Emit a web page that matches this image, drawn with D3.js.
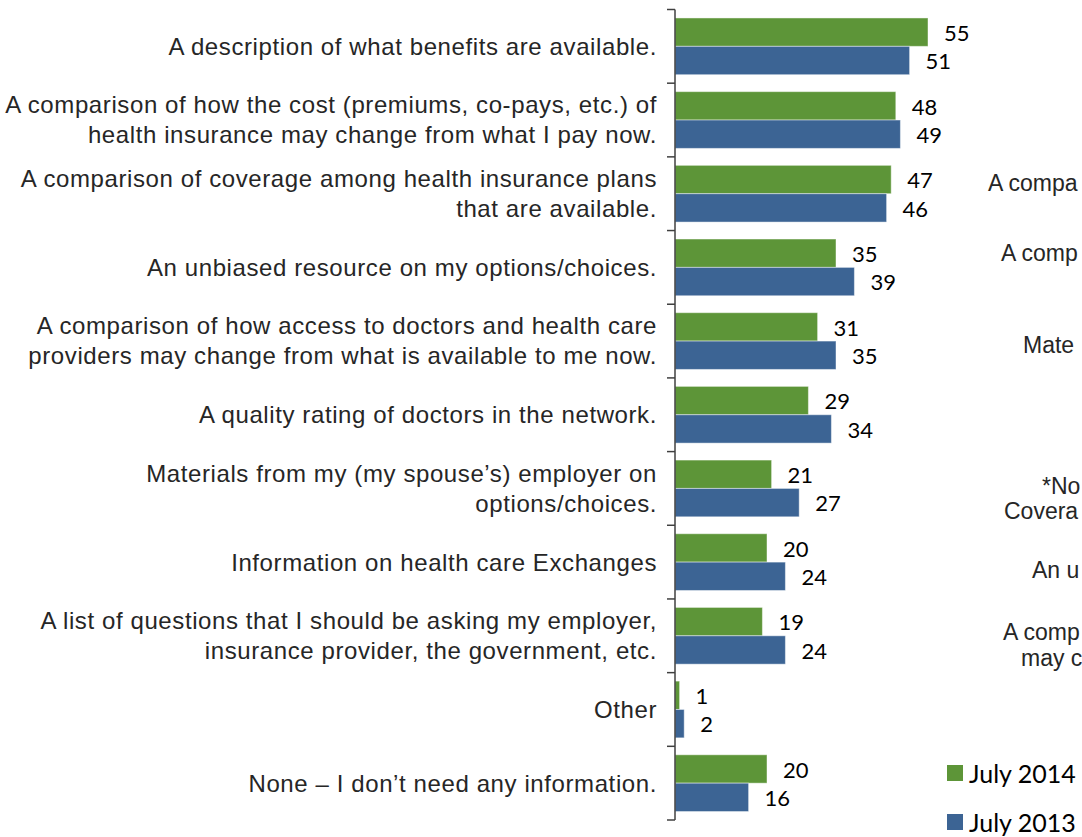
<!DOCTYPE html>
<html>
<head>
<meta charset="utf-8">
<script src="https://cdn.jsdelivr.net/npm/d3@7"></script>
<style>
  html, body { margin: 0; padding: 0; background: #fff; }
  svg { display: block; }
  .cat { font-family: "Liberation Sans Narrow", "Arial Narrow", "Liberation Sans", sans-serif; font-size: 24px; letter-spacing: 0.6px; fill: #262626; }
  .side { font-family: "Liberation Sans Narrow", "Arial Narrow", "Liberation Sans", sans-serif; font-size: 23px; fill: #262626; }
  .val { font-family: "Lato", "Carlito", "Calibri", sans-serif; font-size: 22px; fill: #000; }
  .leg { font-family: "Lato", "Carlito", "Calibri", sans-serif; font-size: 25px; fill: #000; }
</style>
</head>
<body>
<div id="chart"></div>
<script>
// Information employees would find helpful (percent of respondents)
const categories = [
  ["A description of what benefits are available."],
  ["A comparison of how the cost (premiums, co-pays, etc.) of", "health insurance may change from what I pay now."],
  ["A comparison of coverage among health insurance plans", "that are available."],
  ["An unbiased resource on my options/choices."],
  ["A comparison of how access to doctors and health care", "providers may change from what is available to me now."],
  ["A quality rating of doctors in the network."],
  ["Materials from my (my spouse\u2019s) employer on", "options/choices."],
  ["Information on health care Exchanges"],
  ["A list of questions that I should be asking my employer,", "insurance provider, the government, etc."],
  ["Other"],
  ["None \u2013 I don\u2019t need any information."]
];
const july2014 = [55, 48, 47, 35, 31, 29, 21, 20, 19, 1, 20];
const july2013 = [51, 49, 46, 39, 35, 34, 27, 24, 24, 2, 16];
const seriesNames = ["July 2014", "July 2013"];
const seriesColors = ["#5d9538", "#3c6494"];

// Labels of a neighbouring chart, visible only up to the right edge
const sideLabels = [
  { text: "A compa", x: 988, y: 183 },
  { text: "A comp", x: 1001, y: 253 },
  { text: "Mate", x: 1023, y: 345 },
  { text: "*No", x: 1042, y: 486 },
  { text: "Covera", x: 1004, y: 511 },
  { text: "An u", x: 1032, y: 570 },
  { text: "A comp", x: 1003, y: 632 },
  { text: "may c", x: 1021, y: 658 }
];

const W = 1082, H = 837;
const axisX = 675;

const svg = d3.select("#chart").append("svg")
  .attr("width", W).attr("height", H)
  .attr("viewBox", `0 0 ${W} ${H}`);

const idx = d3.range(categories.length);

const y0 = d3.scaleBand()
  .domain(idx)
  .range([9.5, 820])
  .paddingInner(0.23)
  .paddingOuter(0.115);

const y1 = d3.scaleBand()
  .domain([0, 1])
  .range([0, y0.bandwidth()]);

const x = d3.scaleLinear()
  .domain([0, 100])
  .range([axisX, axisX + 460]);

const step = y0.step();
const bandTop = i => y0(i) - y0.paddingInner() * step / 2;

// bars
const groups = svg.append("g").selectAll("g")
  .data(idx)
  .join("g")
  .attr("transform", i => `translate(0,${y0(i)})`);

groups.selectAll("rect")
  .data(i => [july2014[i], july2013[i]].map((v, s) => ({ v, s })))
  .join("rect")
  .attr("x", x(0))
  .attr("y", d => y1(d.s))
  .attr("width", d => x(d.v) - x(0))
  .attr("height", y1.bandwidth())
  .attr("fill", d => seriesColors[d.s])
  .attr("stroke", "rgba(255,255,255,0.45)")
  .attr("stroke-width", 1);

groups.selectAll("text.val")
  .data(i => [july2014[i], july2013[i]].map((v, s) => ({ v, s })))
  .join("text")
  .attr("class", "val")
  .attr("x", d => x(d.v) + 16)
  .attr("y", d => y1(d.s) + y1.bandwidth() / 2 + 1)
  .attr("dy", "0.35em")
  .text(d => d.v);

// category axis: vertical line with tick marks between categories
const axisG = svg.append("g");
axisG.append("line")
  .attr("x1", axisX).attr("x2", axisX)
  .attr("y1", 9.5).attr("y2", 820)
  .attr("stroke", "#404040").attr("stroke-width", 1.5);

const tickYs = idx.map(bandTop).concat([bandTop(categories.length - 1) + step]);
axisG.selectAll("line.tick")
  .data(tickYs)
  .join("line")
  .attr("class", "tick")
  .attr("x1", axisX - 8).attr("x2", axisX)
  .attr("y1", d => d).attr("y2", d => d)
  .attr("stroke", "#404040").attr("stroke-width", 1.5);

// category labels
const lineH = 30;
svg.append("g").selectAll("text")
  .data(idx)
  .join("text")
  .attr("class", "cat")
  .attr("text-anchor", "end")
  .each(function (i) {
    const lines = categories[i];
    const cy = y0(i) + y0.bandwidth() / 2;
    const first = cy - (lines.length - 1) * lineH / 2;
    d3.select(this).selectAll("tspan")
      .data(lines)
      .join("tspan")
      .attr("x", axisX - 18)
      .attr("y", (d, k) => first + k * lineH)
      .attr("dy", "0.35em")
      .text(d => d);
  });

// partial labels along the right edge
svg.append("g").selectAll("text")
  .data(sideLabels)
  .join("text")
  .attr("class", "side")
  .attr("x", d => d.x)
  .attr("y", d => d.y)
  .attr("dy", "0.35em")
  .text(d => d.text);

// legend
const legend = svg.append("g").selectAll("g")
  .data(seriesNames)
  .join("g")
  .attr("transform", (d, k) => `translate(947,${765 + k * 49})`);
legend.append("rect")
  .attr("width", 16).attr("height", 16)
  .attr("fill", (d, k) => seriesColors[k]);
legend.append("text")
  .attr("class", "leg")
  .attr("x", 22).attr("y", 9)
  .attr("dy", "0.35em")
  .text(d => d);
</script>
</body>
</html>
